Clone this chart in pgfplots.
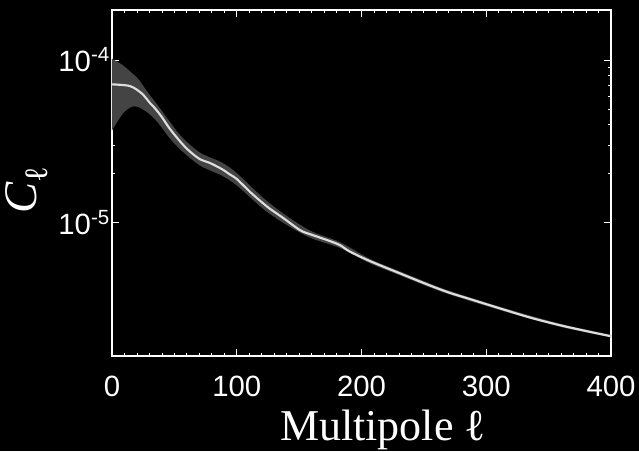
\documentclass[border=0pt]{standalone}
\usepackage{xcolor}
\usepackage{pgfplots}
\pgfplotsset{compat=1.18}
\usepgfplotslibrary{fillbetween}
\usepackage{fontspec}
\setmainfont{Liberation Sans}
\newfontfamily\timesf{Liberation Serif}
\definecolor{bandgray}{HTML}{444444}
\definecolor{linegray}{HTML}{DEDEDE}
\pagecolor{black}
\begin{document}
\begin{tikzpicture}
\begin{axis}[
  at={(0pt,0pt)}, anchor=south west,
  scale only axis, width=374.25pt, height=259.5pt,
  ymode=log,
  xmin=0, xmax=400, ymin=1.52e-6, ymax=2.03e-4,
  axis line style={white, line width=0.8pt},
  every tick/.style={white, line width=0.6pt},
  tick align=inside, tick pos=both,
  major tick length=5pt, minor tick length=2.6pt,
  xtick={0,100,200,300,400},
  minor x tick num=9,
  ytick={1e-5,1e-4},
  yticklabels={10\textsuperscript{-5},10\textsuperscript{-4}},
  xticklabel style={font=\fontsize{22}{24}\selectfont, text=white, anchor=base, yshift=-30.5pt},
  yticklabel style={font=\fontsize{22}{24}\selectfont, text=white, xshift=2pt},
  /pgf/number format/assume math mode=true,
  xlabel={\timesf Multipole ℓ},
  xlabel style={font=\fontsize{33}{36}\selectfont, text=white, at={(axis description cs:0.543,0)}, anchor=base, yshift=-63pt},
  ylabel={\timesf\itshape C\textsubscript{\upshape ℓ}},
  ylabel style={font=\fontsize{35}{37}\selectfont, text=white, at={(axis description cs:-0.171,0.48)}, anchor=center},
]
\addplot[name path=up, draw=none, smooth, tension=0.5] coordinates {
 (0,1.02e-4) (8.8,9.28e-5) (15.8,8.35e-5) (21.1,7.64e-5) (29.1,6.27e-5)
 (37.1,5.22e-5) (46.5,4.16e-5) (55.9,3.37e-5) (70.5,2.70e-5) (88,2.35e-5)
 (100,2.02e-5) (120,1.45e-5) (137.3,1.14e-5) (158.7,8.96e-6) (182.8,7.60e-6)
 (206.8,6.00e-6) (230.9,5.03e-6) (254.9,4.24e-6) (271,3.81e-6) (311,3.05e-6) (359,2.40e-6) (400,2.05e-6)
};
\addplot[name path=lo, draw=none, smooth, tension=0.5] coordinates {
 (0,3.70e-5) (8.8,4.70e-5) (15.8,5.16e-5) (21.1,5.14e-5) (29.1,4.72e-5)
 (37.1,4.10e-5) (46.5,3.29e-5) (55.9,2.77e-5) (70.5,2.25e-5) (88,1.95e-5)
 (100,1.70e-5) (120,1.24e-5) (137.3,1.00e-5) (158.7,8.11e-6) (182.8,7.00e-6)
 (206.8,5.64e-6) (230.9,4.75e-6) (254.9,4.01e-6) (271,3.62e-6) (311,2.91e-6) (359,2.30e-6) (400,1.98e-6)
};
\addplot[bandgray, draw=none] fill between[of=up and lo];
\addplot[linegray, line width=1.6pt, smooth, tension=0.5] coordinates {
 (0,7.09e-5) (14.4,6.92e-5) (23.8,6.24e-5) (30.5,5.44e-5) (34.5,5.05e-5)
 (40,4.46e-5) (46.5,3.77e-5) (55.9,3.08e-5) (62.5,2.74e-5) (70.5,2.46e-5)
 (78.6,2.33e-5) (88,2.14e-5) (94.6,1.98e-5) (100,1.86e-5) (110.6,1.55e-5)
 (120,1.34e-5) (126.6,1.22e-5) (137.3,1.07e-5) (150.7,9.02e-6) (158.7,8.52e-6)
 (174.8,7.72e-6) (182.8,7.29e-6) (190.8,6.65e-6) (206.8,5.82e-6) (230.9,4.89e-6)
 (254.9,4.12e-6) (271,3.71e-6) (287,3.40e-6) (311,2.98e-6) (335,2.62e-6)
 (359,2.35e-6) (383,2.14e-6) (400,2.01e-6)
};
\end{axis}
\pgfresetboundingbox
\path (-84pt,-71.25pt) rectangle (395.25pt,267pt);
\end{tikzpicture}
\end{document}
